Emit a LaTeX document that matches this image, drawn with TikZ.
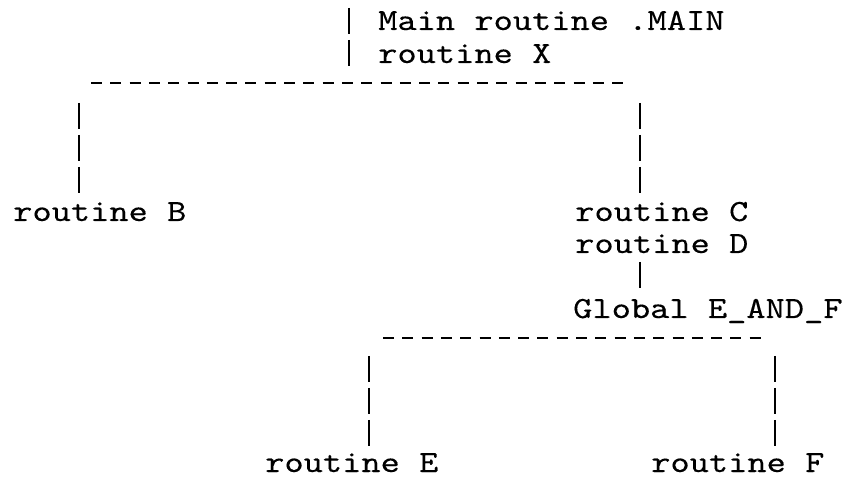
\documentclass[tikz,border=0pt]{standalone}
\usepackage{fontspec}
\newfontfamily\tw[FakeStretch=1.19,FakeBold=0.2]{lmmono10-regular.otf}
\begin{document}
\begin{tikzpicture}[x=1pt,y=-1pt,
  lbl/.style={anchor=base west, inner sep=0pt, font=\tw\fontsize{30.8}{32}\selectfont},
  vbar/.style={line width=1.8pt, dash pattern=on 26pt off 6pt},
  hbar/.style={line width=1.8pt, dash pattern=on 11pt off 8.3pt}]
\useasboundingbox (0,0) rectangle (852,478);
% text nodes
\node[lbl] (main) at (378,30)  {Main routine .MAIN};
\node[lbl] (x)    at (378,63)  {routine X};
\node[lbl] (b)    at (13,221)  {routine B};
\node[lbl] (c)    at (575,221) {routine C};
\node[lbl] (d)    at (575,253) {routine D};
\node[lbl] (g)    at (573,318) {Global E\_AND\_F};
\node[lbl] (e)    at (265,472) {routine E};
\node[lbl] (f)    at (651,472) {routine F};
% junction points
\coordinate (mtop) at (349,8);
\coordinate (mbot) at (349,66);
\coordinate (bar1w) at (91,83);
\coordinate (bar1e) at (627,83);
\coordinate (bT) at (79,103);
\coordinate (bB) at (79,193);
\coordinate (cT) at (640,103);
\coordinate (cB) at (640,193);
\coordinate (dT) at (640,262);
\coordinate (dB) at (640,289);
\coordinate (bar2w) at (383,338);
\coordinate (bar2e) at (763,338);
\coordinate (eT) at (369,356);
\coordinate (eB) at (369,446);
\coordinate (fT) at (775,356);
\coordinate (fB) at (775,446);
% connectors
\draw[vbar] (mtop) -- (mbot);
\draw[hbar] (bar1w) -- (bar1e);
\draw[vbar] (bT) -- (bB);
\draw[vbar] (cT) -- (cB);
\draw[vbar] (dT) -- (dB);
\draw[hbar] (bar2w) -- (bar2e);
\draw[vbar] (eT) -- (eB);
\draw[vbar] (fT) -- (fB);
\end{tikzpicture}
\end{document}
